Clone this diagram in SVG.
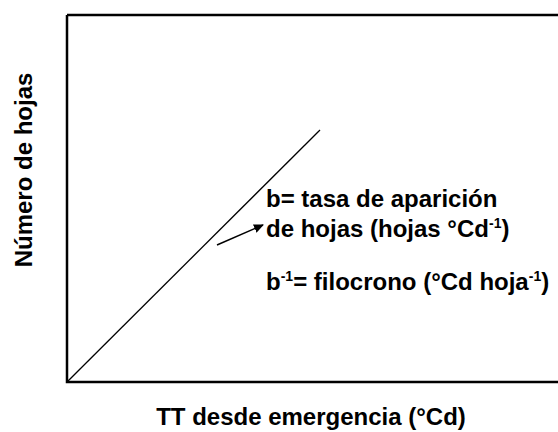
<svg xmlns="http://www.w3.org/2000/svg" width="558" height="432" viewBox="0 0 558 432">
<style>
text{font-family:"Liberation Sans",Arial,sans-serif;font-weight:bold;fill:#000;font-size:24px}
.s{font-size:14px}
</style>
<defs><marker id="ah" markerWidth="10" markerHeight="10" refX="9" refY="5" orient="auto" markerUnits="userSpaceOnUse"><path d="M0,0.5 L10,5 L0,9.5 z" fill="#000"/></marker></defs>
<rect width="558" height="432" fill="#fff"/>
<g id="axes"><path d="M67,15 H560 M67,15 V382 H560" fill="none" stroke="#000" stroke-width="2.5"/></g>
<g id="connectors">
<line x1="67" y1="382" x2="320" y2="130" stroke="#000" stroke-width="1.3"/>
<line x1="217" y1="245" x2="263" y2="225" stroke="#000" stroke-width="1.5" marker-end="url(#ah)"/>
</g>
<g id="labels">
<text x="266" y="207">b= tasa de aparición</text>
<text x="266" y="237">de hojas (hojas °Cd<tspan class="s" dy="-9">-1</tspan><tspan dy="9">)</tspan></text>
<text x="266" y="290">b<tspan class="s" dy="-9">-1</tspan><tspan dy="9">= filocrono (°Cd hoja</tspan><tspan class="s" dy="-9">-1</tspan><tspan dy="9">)</tspan></text>
<text x="311" y="425" text-anchor="middle">TT desde emergencia (°Cd)</text>
<text transform="translate(32,170) rotate(-90)" text-anchor="middle">Número de hojas</text>
</g>
</svg>
